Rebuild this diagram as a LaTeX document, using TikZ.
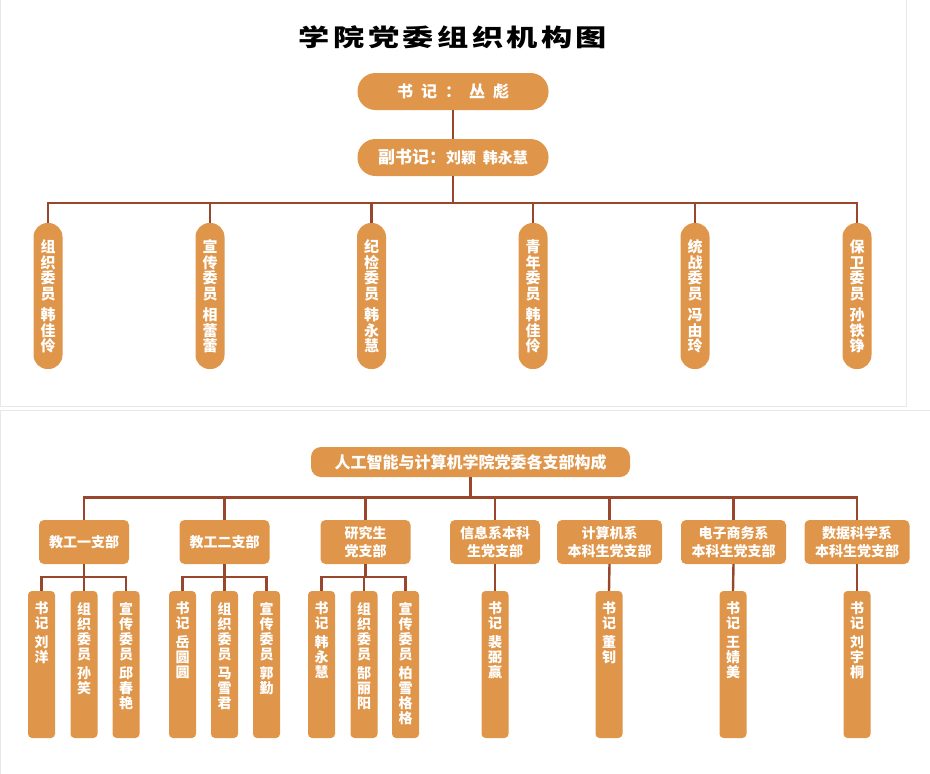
\documentclass[tikz,border=0pt]{standalone}
\usepackage{fontspec}
\newfontfamily\cjk{Noto Sans CJK SC}
\definecolor{boxfill}{RGB}{223,149,74}
\definecolor{linec}{RGB}{152,70,44}
\definecolor{panel}{RGB}{232,232,232}
\tikzset{
  conn/.style={draw=linec, line width=2.4pt},
  pill/.style={fill=boxfill, draw=none, rounded corners=18pt, minimum width=191pt, minimum height=37pt, inner sep=0pt, text=white, font=\cjk\bfseries\fontsize{16}{18}\selectfont},
  vpill/.style={fill=boxfill, draw=none, rounded corners=14pt, minimum width=29pt, minimum height=146pt, inner sep=0pt},
  vtext/.style={text=white, inner sep=0pt, align=center, font=\cjk\bfseries\fontsize{15}{15.5}\selectfont},
  headbox/.style={fill=boxfill, draw=none, rounded corners=10pt, minimum width=319pt, minimum height=30pt, inner sep=0pt, text=white, font=\cjk\bfseries\fontsize{16}{18}\selectfont},
  brbox/.style={fill=boxfill, draw=none, rounded corners=5pt, minimum height=44pt, inner sep=0pt, text=white, align=center, font=\cjk\bfseries\fontsize{14}{18}\selectfont},
  mbox/.style={fill=boxfill, draw=none, rounded corners=4pt, minimum width=27pt, minimum height=147pt, inner sep=0pt},
  mtext/.style={text=white, inner sep=0pt, align=center, anchor=north, font=\cjk\bfseries\fontsize{14}{15}\selectfont},
}
\begin{document}
\begin{tikzpicture}[x=1pt, y=-1pt]
\useasboundingbox (0,0) rectangle (930,774);
% panels
\draw[panel, line width=1pt] (0.5,0) -- (0.5,406.5) -- (906.5,406.5) -- (906.5,0);
\draw[panel, line width=1pt] (0.5,774) -- (0.5,410.5) -- (930,410.5);
% title
\node[inner sep=0pt, xscale=1.3, font=\cjk\bfseries\fontsize{24}{26}\selectfont\addfontfeatures{LetterSpace=11}] (title) at (453,37) {学院党委组织机构图};
% top nodes
\node[pill] (t1) at (453,91.5) {\addfontfeatures{LetterSpace=50}书记：丛彪};
\node[pill, font=\cjk\bfseries\fontsize{17}{18}\selectfont] (t2) at (453,157.5) {副书记：{\fontsize{15}{16}\selectfont 刘颖\ \ 韩永慧}};
\coordinate (bus1) at (48,203);
\draw[conn] (t1.south) -- (t2.north);
\draw[conn] (t2.south) -- (t2.south |- bus1);
% committee pills
\foreach \n/\x/\t in {
  p1/48/{组\\织\\委\\员\\[6pt]韩\\佳\\伶},
  p2/210/{宣\\传\\委\\员\\[6pt]相\\蕾\\蕾},
  p3/371.5/{纪\\检\\委\\员\\[6pt]韩\\永\\慧},
  p4/533/{青\\年\\委\\员\\[6pt]韩\\佳\\伶},
  p5/695/{统\\战\\委\\员\\[6pt]冯\\由\\玲},
  p6/857/{保\\卫\\委\\员\\[6pt]孙\\铁\\铮}}{
  \node[vpill] (\n) at (\x,296) {};
  \node[vtext] (\n t) at (\x,296.5) {\t};
}
\draw[conn] (p1.north) -- (p1.north |- bus1) -- (p6.north |- bus1) -- (p6.north);
\foreach \n in {p2,p3,p4,p5}{\draw[conn] (\n.north) -- (\n.north |- bus1);}
% bottom header
\node[headbox] (h) at (470.5,462) {人工智能与计算机学院党委各支部构成};
\coordinate (bus2) at (84,497.5);
\draw[conn] (h.south) -- (h.south |- bus2);
% branches
\node[brbox, minimum width=90pt] (b1) at (84,542) {教工一支部};
\node[brbox, minimum width=90pt] (b2) at (224.5,542) {教工二支部};
\node[brbox, minimum width=90pt] (b3) at (365.5,542) {研究生\\党支部};
\node[brbox, minimum width=90pt] (b4) at (495,542) {信息系本科\\生党支部};
\node[brbox, minimum width=105pt] (b5) at (609.5,542) {计算机系\\本科生党支部};
\node[brbox, minimum width=105pt] (b6) at (733.5,542) {电子商务系\\本科生党支部};
\node[brbox, minimum width=105pt] (b7) at (857,542) {数据科学系\\本科生党支部};
\draw[conn] (b1.north) -- (b1.north |- bus2) -- (b7.north |- bus2) -- (b7.north);
\foreach \n in {b2,b3,b4,b5,b6}{\draw[conn] (\n.north) -- (\n.north |- bus2);}
% members
\foreach \n/\x/\t in {
  m1/41.5/{书\\记\\[4pt]刘\\洋},
  m2/84/{组\\织\\委\\员\\[4pt]孙\\笑},
  m3/126/{宣\\传\\委\\员\\[4pt]邱\\春\\艳},
  m4/182.5/{书\\记\\[4pt]岳\\圆\\圆},
  m5/224.5/{组\\织\\委\\员\\[4pt]马\\雪\\君},
  m6/266.5/{宣\\传\\委\\员\\[4pt]郭\\勤},
  m7/321.5/{书\\记\\[4pt]韩\\永\\慧},
  m8/364/{组\\织\\委\\员\\[4pt]郜\\丽\\阳},
  m9/405.5/{宣\\传\\委\\员\\[4pt]柏\\雪\\格\\格},
  m10/495/{书\\记\\[4pt]裴\\弼\\赢},
  m11/609/{书\\记\\[4pt]董\\钊},
  m12/733/{书\\记\\[4pt]王\\婧\\美},
  m13/857/{书\\记\\[4pt]刘\\宇\\桐}}{
  \node[mbox] (\n) at (\x,664.5) {};
  \node[mtext] (\n t) at ([yshift=-11pt]\n.north) {\t};
}
% sub buses
\coordinate (sb) at (0,577);
\draw[conn] (b1.south) -- (b1.south |- sb);
\draw[conn] (m1.north) -- (m1.north |- sb) -- (m3.north |- sb) -- (m3.north);
\draw[conn] (m2.north) -- (m2.north |- sb);
\draw[conn] (b2.south) -- (b2.south |- sb);
\draw[conn] (m4.north) -- (m4.north |- sb) -- (m6.north |- sb) -- (m6.north);
\draw[conn] (m5.north) -- (m5.north |- sb);
\draw[conn] (b3.south) -- (b3.south |- sb);
\draw[conn] (m7.north) -- (m7.north |- sb) -- (m9.north |- sb) -- (m9.north);
\draw[conn] (m8.north) -- (m8.north |- sb);
\draw[conn] (b4.south) -- (m10.north);
\draw[conn] (b5.south) -- (m11.north);
\draw[conn] (b6.south) -- (m12.north);
\draw[conn] (b7.south) -- (m13.north);
\end{tikzpicture}
\end{document}
